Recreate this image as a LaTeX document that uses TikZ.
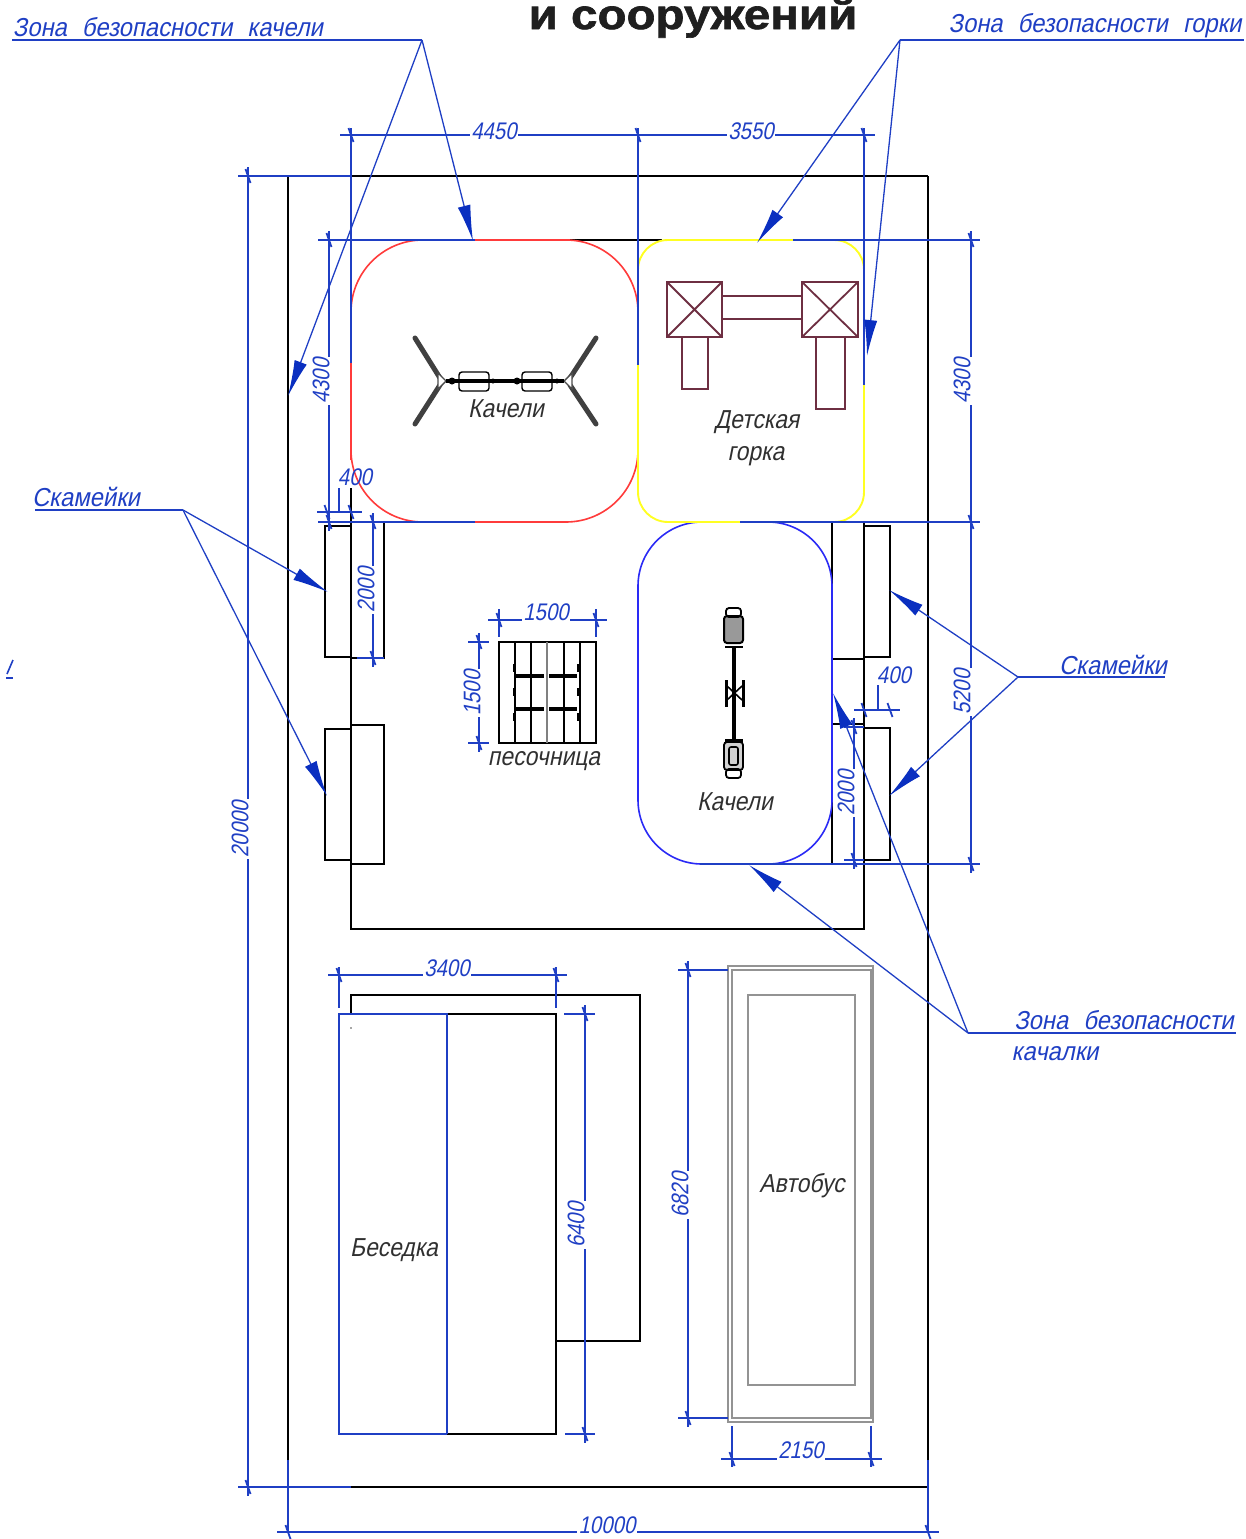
\documentclass[tikz,border=0pt]{standalone}
\usepackage{fontspec}
\setmainfont{Liberation Sans}
\newfontfamily\cadfont[FakeStretch=0.85,FakeSlant=0.2]{Liberation Sans}
\newfontfamily\cadwide[FakeStretch=0.88,FakeSlant=0.2]{Liberation Sans}
\newfontfamily\cadlead[FakeStretch=0.915,FakeSlant=0.2]{Liberation Sans}
\newfontfamily\titlefont[FakeStretch=1.13,FakeBold=1.5]{Liberation Sans Bold}
\usetikzlibrary{arrows.meta,calc}
\definecolor{cadblue}{HTML}{1F3FC4}
\definecolor{headblue}{HTML}{0A2FC0}
\definecolor{zonered}{HTML}{FF3B3B}
\definecolor{zoneyel}{HTML}{FFFF22}
\definecolor{zoneblue}{HTML}{2A2AF5}
\definecolor{slide}{HTML}{6E2F42}
\definecolor{inktext}{HTML}{303030}
\newcommand\gapz{\hspace{15pt}}
\tikzset{
 x=1pt,y=-1pt,
 obj/.style={draw=black,line width=1.8pt},
 dimln/.style={draw=cadblue,line width=1.8pt},
 tickmk/.style={draw=cadblue,line width=1.8pt},
 lead/.style={draw=cadblue,line width=1.3pt},
 leadarrow/.style={lead,-{Latex[length=36pt,width=13pt,fill=headblue,color=headblue]}},
 dimlabel/.style={font=\cadfont\fontsize{24}{24}\selectfont,text=cadblue,inner sep=1.5pt},
 leadlabel/.style={font=\cadlead\fontsize{26}{26}\selectfont,text=cadblue,inner sep=0pt},
 objlabel/.style={font=\cadwide\fontsize{26}{26}\selectfont,text=inktext,inner sep=0pt},
 slidebox/.style={draw=slide,line width=1.8pt},
 busline/.style={draw=gray!85!white,line width=1.8pt},
 swingarm/.style={draw=black!75,line width=5pt,line cap=round},
 swingbar/.style={draw=black,line width=3.5pt},
 seat/.style={draw=black,line width=1.4pt,rounded corners=3pt,fill=white},
}
\newcommand\TickAt[2]{\draw[tickmk] ($(#1,#2)+(-2.5,-7)$) -- ($(#1,#2)+(2.5,7)$);}
% name, y, x1, x2, textx, texty, text
\newcommand\DimH[7]{%
 \coordinate (#1a) at (#3,#2); \coordinate (#1b) at (#4,#2);
 \node[dimlabel] (#1t) at (#5,#6) {#7};
 \draw[dimln] ($(#1a)+(-11,0)$) -- (#1t.west |- #1a);
 \draw[dimln] (#1t.east |- #1a) -- ($(#1b)+(11,0)$);
 \TickAt{#3}{#2}\TickAt{#4}{#2}}
% name, x, y1, y2, textx, texty, text
\newcommand\DimV[7]{%
 \coordinate (#1a) at (#2,#3); \coordinate (#1b) at (#2,#4);
 \node[dimlabel,rotate=90] (#1t) at (#5,#6) {#7};
 \draw[dimln] ($(#1a)+(0,-9)$) -- (#1a |- #1t.east);
 \draw[dimln] (#1a |- #1t.west) -- ($(#1b)+(0,9)$);
 \draw[tickmk] ($(#1a)+(-10,0)$) -- ($(#1a)+(10,0)$);
 \draw[tickmk] ($(#1b)+(-10,0)$) -- ($(#1b)+(10,0)$);
 \TickAt{#2}{#3}\TickAt{#2}{#4}}
\begin{document}
\begin{tikzpicture}
\useasboundingbox (0,0) rectangle (1246,1539);
% title
\node[font=\titlefont\fontsize{42}{42}\selectfont,text=black!88,inner sep=0pt,anchor=base] (title) at (693,29) {и сооружений};
% site
\draw[obj] (351,176) -- (928,176);
\draw[obj] (288,176) -- (288,1460);
\draw[obj] (928,176) -- (928,1460);
\draw[obj] (351,1487) -- (928,1487);
\draw[dimln] (240,176) -- (351,176);
\draw[dimln] (240,1487) -- (351,1487);
\draw[dimln] (288,1460) -- (288,1532);
\draw[dimln] (928,1460) -- (928,1532);
% playground outline
\draw[obj] (351,488) -- (351,929) -- (864,929) -- (864,522);
\draw[obj] (570,240) -- (662,240);
% left notches
\draw[obj] (351,522) -- (384,522) -- (384,658) -- (351,658);
\draw[obj] (351,725) -- (384,725) -- (384,864) -- (351,864);
\draw[obj,fill=white] (325,526) rectangle (351,657);
\draw[obj,fill=white] (325,729) rectangle (351,860);
% right notches
\draw[obj] (832,522) -- (832,864) -- (864,864);
\draw[obj] (832,659) -- (864,659);
\draw[obj] (832,724) -- (864,724);
\draw[obj,fill=white] (864,526) rectangle (890,657);
\draw[obj,fill=white] (864,728) rectangle (890,860);
% safety zones
\draw[draw=zonered,line width=1.6pt,rounded corners=72pt] (351,240) rectangle (638,522);
\draw[draw=zoneyel,line width=1.9pt,rounded corners=30pt] (638,240) rectangle (864,522);
\draw[draw=zoneblue,line width=1.6pt,rounded corners=64pt] (638,522) rectangle (832,864);
\draw[draw=zonered,line width=2.2pt] (351,363) -- (351,460);
\draw[draw=zonered,line width=2.2pt] (475,240) -- (570,240);
\draw[draw=zonered,line width=2.2pt] (475,522) -- (565,522);
\draw[draw=zoneyel,line width=2.4pt] (666,240) -- (793,240);
\draw[draw=zoneyel,line width=2.4pt] (668,522) -- (740,522);
\draw[draw=zoneyel,line width=2.4pt] (638,365) -- (638,490);
\draw[draw=zoneyel,line width=2.4pt] (864,385) -- (864,490);
% gazebo
\draw[obj] (351,1014) -- (351,995) -- (640,995) -- (640,1341) -- (556,1341);
\draw[obj,fill=white] (447,1014) rectangle (556,1434);
\draw[dimln] (447,1434) -- (339,1434) -- (339,1014) -- (447,1014) -- (447,1434);
\fill[black!70] (351,1028) circle (0.9pt);
% bus
\draw[busline] (728,966) rectangle (873,1422);
\draw[busline] (732,970) rectangle (871,1418);
\draw[busline] (748,995) rectangle (855,1385);
% sandbox
\draw[obj] (499,642) rectangle (596,743);
\foreach \vx in {515,531,564,580} {\draw[draw=black,line width=1.5pt] (\vx,642) -- (\vx,743);}
\draw[draw=black!50,line width=1.5pt] (547,642) -- (547,743);
\foreach \hy in {676,709} {
 \draw[draw=black,line width=3.2pt] (516,\hy) -- (544,\hy);
 \draw[draw=black,line width=3.2pt] (549,\hy) -- (577,\hy);}
\foreach \ty in {668,692,717} {
 \draw[draw=black,line width=3pt] (514,\ty-4) -- (514,\ty+4);
 \draw[draw=black,line width=3pt] (578,\ty-4) -- (578,\ty+4);}
% swing 1
\draw[swingarm] (415,338) -- (440,378);
\draw[swingarm] (415,424) -- (440,385);
\draw[swingarm] (596,338) -- (570,378);
\draw[swingarm] (596,424) -- (570,385);
\draw[draw=black!70,line width=1.4pt,fill=white] (438,373) -- (446,381) -- (438,389) -- cycle;
\draw[draw=black!70,line width=1.4pt,fill=white] (572,373) -- (564,381) -- (572,389) -- cycle;
\draw[seat] (459,372) rectangle (489,391);
\draw[seat] (522,372) rectangle (552,391);
\draw[swingbar] (446,381) -- (564,381);
\fill (452,381) circle (3.5pt) (493,381) circle (2.5pt) (517,381) circle (3.5pt) (557,381) circle (2.5pt);
% slide
\draw[slidebox] (667,282) rectangle (722,337);
\draw[slidebox] (667,282) -- (722,337) (667,337) -- (722,282);
\draw[slidebox] (802,282) rectangle (858,337);
\draw[slidebox] (802,282) -- (858,337) (802,337) -- (858,282);
\draw[slidebox] (722,296) -- (802,296) (722,319) -- (802,319);
\draw[slidebox] (682,337) rectangle (708,389);
\draw[slidebox] (816,337) rectangle (845,409);
% swing 2
\draw[swingbar] (734,647) -- (734,740);
\draw[draw=black,line width=2pt,rounded corners=3pt,fill=gray!80] (724,616) rectangle (743,643);
\draw[draw=black,line width=1.8pt,rounded corners=3pt] (726,608) rectangle (741,617);
\draw[draw=black,line width=2.4pt] (725,647) -- (743,647);
\draw[draw=black,line width=3pt] (726,680) -- (726,707);
\draw[draw=black,line width=3pt] (743,680) -- (743,707);
\draw[draw=black,line width=1.6pt] (727,686) -- (742,700) (727,700) -- (742,686);
\draw[draw=black,line width=3pt] (725,740) -- (743,740);
\draw[draw=black,line width=1.8pt,rounded corners=3pt,fill=gray!35] (724,742) rectangle (743,770);
\draw[draw=black,line width=1.6pt,rounded corners=2pt] (729,747) rectangle (738,765);
\draw[draw=black,line width=1.8pt,rounded corners=3pt] (726,769) rectangle (741,778);
% object labels
\node[objlabel] (lblswingA) at (506,409) {Качели};
\node[objlabel] (lblslideA) at (757,422) {Детская};
\node[objlabel] (lblslideB) at (756,456) {горка};
\node[objlabel] (lblsand) at (544,761) {песочница};
\node[objlabel] (lblswingB) at (735,802) {Качели};
\node[objlabel] (lblgaz) at (394,1250) {Беседка};
\node[objlabel] (lblbus) at (802,1186) {Автобус};
% extension lines and long dimension rails
\draw[dimln] (351,128) -- (351,363);
\draw[dimln] (638,128) -- (638,365);
\draw[dimln] (864,128) -- (864,385);
\draw[dimln] (318,240) -- (475,240);
\draw[dimln] (793,240) -- (980,240);
\draw[dimln] (318,522) -- (475,522);
\draw[dimln] (740,522) -- (980,522);
\draw[dimln] (700,864) -- (980,864);
\draw[dimln] (357,522) -- (384,522);
\draw[dimln] (357,658) -- (384,658);
\draw[dimln] (339,967) -- (339,1008);
\draw[dimln] (556,967) -- (556,1008);
\draw[dimln] (688,970) -- (728,970);
\draw[dimln] (688,1418) -- (728,1418);
\draw[dimln] (732,1426) -- (732,1467);
\draw[dimln] (871,1426) -- (871,1467);
\draw[dimln] (499,609) -- (499,637);
\draw[dimln] (596,609) -- (596,637);
\draw[dimln] (564,1014) -- (585,1014);
\draw[dimln] (565,1434) -- (585,1434);
\draw[dimln] (468,642) -- (479,642);
\draw[dimln] (468,743) -- (479,743);
% dimensions
\coordinate (ta) at (351,135); \coordinate (tb) at (638,135); \coordinate (tc) at (864,135);
\node[dimlabel] (t4450) at (494,131) {4450};
\node[dimlabel] (t3550) at (751,131) {3550};
\draw[dimln] ($(ta)+(-11,0)$) -- (t4450.west |- ta);
\draw[dimln] (t4450.east |- ta) -- (t3550.west |- ta);
\draw[dimln] (t3550.east |- ta) -- ($(tc)+(11,0)$);
\TickAt{351}{135}\TickAt{638}{135}\TickAt{864}{135}
\DimV{d20000}{248}{176}{1487}{240}{829}{20000}
\DimH{d10000}{1532}{288}{928}{607}{1525}{10000}
\DimV{d4300l}{329}{240}{522}{321}{381}{4300}
\coordinate (r1) at (971,240); \coordinate (r2) at (971,522); \coordinate (r3) at (971,864);
\node[dimlabel,rotate=90] (t4300r) at (962,381) {4300};
\node[dimlabel,rotate=90] (t5200) at (962,692) {5200};
\draw[dimln] ($(r1)+(0,-9)$) -- (r1 |- t4300r.east);
\draw[dimln] (r1 |- t4300r.west) -- (r1 |- t5200.east);
\draw[dimln] (r1 |- t5200.west) -- ($(r3)+(0,9)$);
\TickAt{971}{240}\TickAt{971}{522}\TickAt{971}{864}
\DimV{d2000l}{373}{522}{658}{366}{590}{2000}
\DimV{d1500v}{479}{642}{743}{472}{693}{1500}
\DimH{d1500h}{620}{499}{596}{546}{612}{1500}
% 400 (left), dimensioned by a leader
\node[dimlabel] (t400l) at (355,477) {400};
\coordinate (l4a) at (317,512); \coordinate (l4b) at (362,512); \coordinate (l4c) at (339,488);
\draw[dimln] (l4a) -- (l4b);
\draw[dimln] (l4c) -- (l4c |- l4a);
\TickAt{327}{512}\TickAt{351}{512}
% 400 (right), dimensioned by a leader
\node[dimlabel] (t400r) at (894,675) {400};
\coordinate (r4a) at (854,710); \coordinate (r4b) at (900,710); \coordinate (r4c) at (878,685);
\draw[dimln] (r4a) -- (r4b);
\draw[dimln] (r4c) -- (r4c |- r4a);
\TickAt{864}{710}\TickAt{890}{710}
\DimV{d2000r}{854}{727}{860}{846}{793}{2000}
\DimH{d3400}{975}{339}{556}{447}{968}{3400}
\DimV{d6400}{585}{1014}{1434}{576}{1225}{6400}
\DimV{d6820}{688}{970}{1418}{680}{1195}{6820}
\DimH{d2150}{1459}{732}{871}{801}{1450}{2150}
% leaders
\node[leadlabel] (lzk) at (168,27) {Зона\gapz безопасности\gapz качели};
\node[leadlabel] (lzg) at (1095,26) {Зона\gapz безопасности\gapz горки};
\node[leadlabel] (lsl) at (86,497) {Скамейки};
\node[leadlabel] (lsr) at (1113,665) {Скамейки};
\node[leadlabel] (lzq) at (1124,1020) {Зона\gapz безопасности};
\node[leadlabel] (lzq2) at (1055,1054) {качалки};
\coordinate (zkj) at (422,40); \coordinate (zgj) at (900,40);
\coordinate (slj) at (183,510); \coordinate (srj) at (1018,677); \coordinate (zqj) at (968,1033);
\coordinate (zka) at (473,241); \coordinate (zkb) at (288,396);
\coordinate (zga) at (757,243); \coordinate (zgb) at (867,356);
\coordinate (sla) at (328,592); \coordinate (slb) at (327,796);
\coordinate (sra) at (889,590); \coordinate (srb) at (889,796);
\coordinate (zqa) at (833,693); \coordinate (zqb) at (749,865);
\draw[lead,line width=1.8pt] (12,40) -- (zkj);
\draw[lead,line width=1.8pt] (zgj) -- (1244,40);
\draw[lead,line width=1.8pt] (35,510) -- (slj);
\draw[lead,line width=1.8pt] (srj) -- (1165,677);
\draw[lead,line width=1.8pt] (zqj) -- (1236,1033);
\draw[leadarrow] (zkj) -- (zka);
\draw[leadarrow] (zkj) -- (zkb);
\draw[leadarrow] (zgj) -- (zga);
\draw[leadarrow] (zgj) -- (zgb);
\draw[leadarrow] (slj) -- (sla);
\draw[leadarrow] (slj) -- (slb);
\draw[leadarrow] (srj) -- (sra);
\draw[leadarrow] (srj) -- (srb);
\draw[leadarrow] (zqj) -- (zqa);
\draw[leadarrow] (zqj) -- (zqb);
% stray mark at the left edge
\draw[lead,line width=1.6pt] (13,660) -- (7,674);
\draw[lead,line width=1.6pt] (6,678) -- (13,678);
\end{tikzpicture}
\end{document}
